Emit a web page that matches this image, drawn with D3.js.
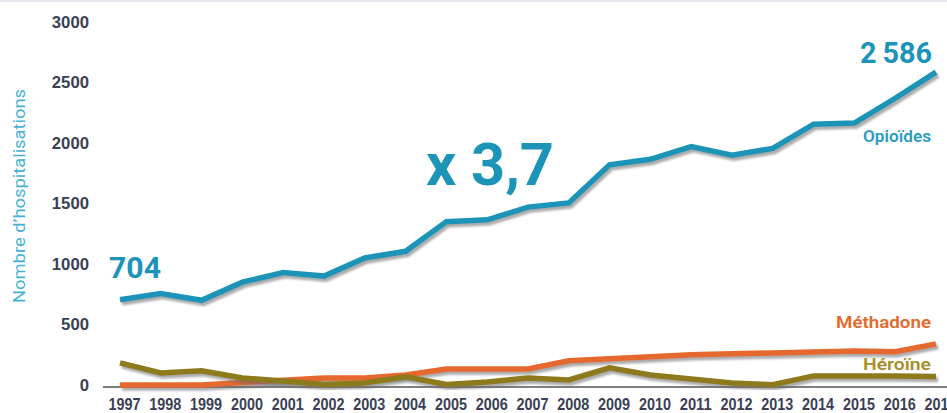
<!DOCTYPE html>
<html>
<head>
<meta charset="utf-8">
<script src="https://cdn.jsdelivr.net/npm/d3@7"></script>
<style>
  body { margin: 0; background: #fff; }
  svg { display: block; font-family: Roboto, "DejaVu Sans", sans-serif; }
</style>
</head>
<body>
<svg id="chart-svg" width="947" height="413"></svg>
<script>
var svg = d3.select("#chart-svg");

// Data
var years = d3.range(1997, 2018);
var opioides = [704, 755, 700, 850, 930, 900, 1050, 1105, 1350, 1365, 1470, 1505, 1820, 1865, 1970, 1900, 1955, 2155, 2165, 2370, 2586];
var methadone = [0, 0, 0, 20, 40, 58, 58, 83, 133, 133, 133, 200, 217, 233, 250, 258, 265, 272, 280, 275, 340];
var heroine = [183, 100, 117, 58, 33, 5, 17, 67, 5, 25, 58, 42, 142, 83, 50, 17, 2, 75, 75, 75, 70];
var yTicks = [0, 500, 1000, 1500, 2000, 2500, 3000];

// Colors
var teal = "#1b94b8";
var orange = "#e5692d";
var olive = "#8d7a1c";
var tickColor = "#3a3f55";

var x = d3.scaleLinear().domain([1997, 2017]).range([120, 936]);
var y = d3.scaleLinear().domain([0, 3000]).range([385, 22]);

// Shadow under the lines
var defs = svg.append("defs");
var f = defs.append("filter").attr("id", "shadow")
            .attr("x", "-5%").attr("y", "-20%").attr("width", "110%").attr("height", "140%");
f.append("feDropShadow")
 .attr("dx", 2).attr("dy", 3).attr("stdDeviation", 1.2)
 .attr("flood-color", "#666").attr("flood-opacity", 0.55);

// Faint top border
svg.append("line")
   .attr("x1", 0).attr("x2", 947).attr("y1", 1).attr("y2", 1)
   .style("stroke", "#e6e9ef").style("stroke-width", 2);

// Y axis (labels only)
var yAxis = svg.append("g")
               .attr("transform", "translate(89,0)")
               .call(d3.axisLeft(y).tickValues(yTicks).tickSize(0).tickPadding(0).tickFormat(d3.format("d")));
yAxis.select(".domain").remove();
yAxis.selectAll("text")
     .style("font-size", "17px")
     .style("font-weight", 600)
     .style("fill", tickColor)
     .attr("textLength", function(d) { return String(d).length * 9.3; })
     .attr("lengthAdjust", "spacingAndGlyphs");

// Y title
svg.append("text")
   .attr("transform", "translate(25,196) rotate(-90)")
   .attr("text-anchor", "middle")
   .attr("textLength", 214)
   .attr("lengthAdjust", "spacingAndGlyphs")
   .style("font-size", "17px")
   .style("fill", "#45b1d3")
   .text("Nombre d\u2019hospitalisations");

// X axis baseline
svg.append("line")
   .attr("x1", 103).attr("x2", 947)
   .attr("y1", 387).attr("y2", 387)
   .style("stroke", "#555")
   .style("stroke-width", 1.5);

var xAxis = svg.append("g")
               .attr("transform", "translate(4,398)")
               .call(d3.axisBottom(x).tickValues(years).tickSize(0).tickPadding(0).tickFormat(d3.format("d")));
xAxis.select(".domain").remove();
xAxis.selectAll("text")
     .attr("dy", "0.71em")
     .style("font-size", "17px")
     .style("font-weight", 600)
     .style("fill", tickColor)
     .attr("textLength", 32)
     .attr("lengthAdjust", "spacingAndGlyphs");

// Lines
var line = d3.line()
             .x(function(d, i) { return x(years[i]); })
             .y(function(d) { return y(d); });

var series = [
  { name: "methadone", values: methadone, color: orange },
  { name: "heroine", values: heroine, color: olive },
  { name: "opioides", values: opioides, color: teal }
];

svg.selectAll(".serie")
   .data(series)
   .enter()
   .append("path")
   .attr("class", "serie")
   .attr("d", function(d) { return line(d.values); })
   .attr("filter", "url(#shadow)")
   .style("fill", "none")
   .style("stroke", function(d) { return d.color; })
   .style("stroke-width", 5.5)
   .style("stroke-linejoin", "miter");

// Annotations
svg.append("text")
   .attr("x", 109).attr("y", 278)
   .style("font-size", "29px").style("font-weight", 700).style("fill", teal)
   .attr("textLength", 52).attr("lengthAdjust", "spacingAndGlyphs")
   .text(opioides[0]);

svg.append("text")
   .attr("x", 426).attr("y", 185)
   .style("font-size", "60px").style("font-weight", 700).style("fill", teal)
   .attr("textLength", 128).attr("lengthAdjust", "spacingAndGlyphs")
   .text("x 3,7");

svg.append("text")
   .attr("x", 932).attr("y", 63)
   .attr("text-anchor", "end")
   .style("font-size", "29px").style("font-weight", 700).style("fill", teal)
   .attr("textLength", 72).attr("lengthAdjust", "spacingAndGlyphs")
   .text("2\u2009586");

var seriesLabels = [
  { text: "Opioïdes", y: 142, w: 68, color: "#2a9cc4" },
  { text: "Méthadone", y: 328, w: 95, color: "#e5692d" },
  { text: "Héroïne", y: 370, w: 68, color: "#a88f2c" }
];
svg.selectAll(".serieLabel")
   .data(seriesLabels)
   .enter()
   .append("text")
   .attr("class", "serieLabel")
   .attr("x", 931)
   .attr("y", function(d) { return d.y; })
   .attr("text-anchor", "end")
   .attr("textLength", function(d) { return d.w; })
   .attr("lengthAdjust", "spacingAndGlyphs")
   .style("font-size", "17px")
   .style("font-weight", 600)
   .style("fill", function(d) { return d.color; })
   .text(function(d) { return d.text; });
</script>
</body>
</html>
